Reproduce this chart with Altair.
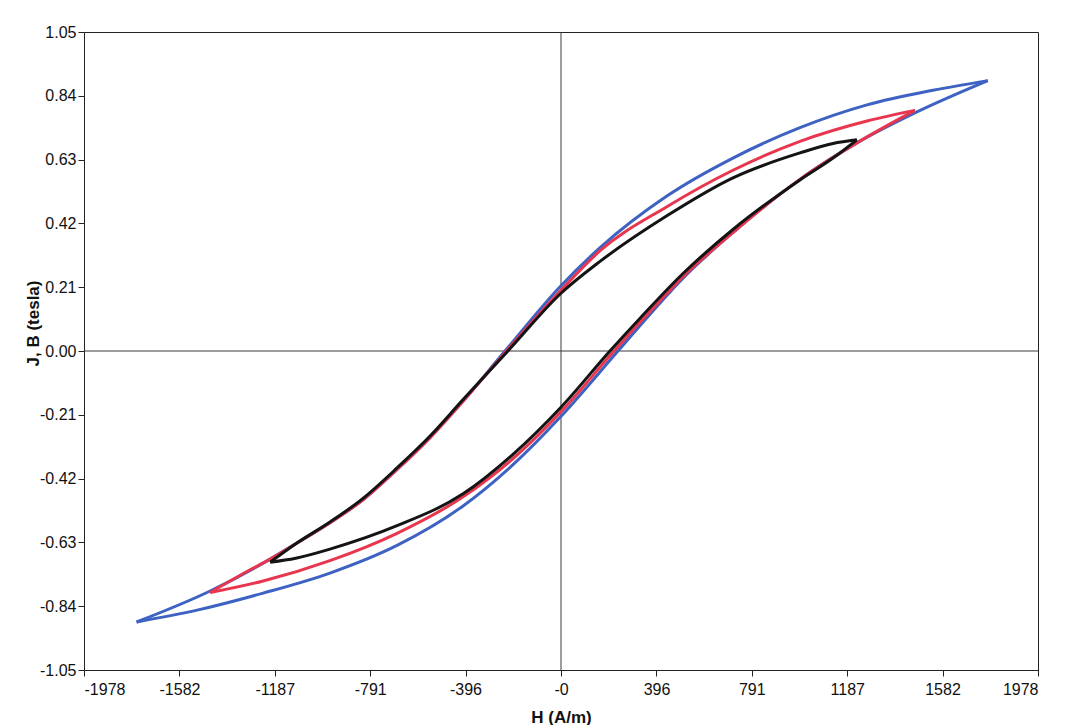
import altair as alt
import pandas as pd

# ---- data (H in A/m, B in tesla) ----
blue_upper_H = [1770, 1542, 1269, 991, 713, 439, 162, 0, -232, -406, -543, -680, -821, -958, -1095, -1206, -1455, -1760]
blue_upper_B = [0.890, 0.858, 0.810, 0.735, 0.635, 0.510, 0.340, 0.215, 0.0, -0.165, -0.285, -0.390, -0.490, -0.565, -0.632, -0.685, -0.790, -0.892]
blue_lower_H = [-1760, -1509, -1235, -958, -680, -406, -200, 0, 236, 340, 506, 713, 991, 1227, 1476, 1770]
blue_lower_B = [-0.892, -0.853, -0.797, -0.731, -0.640, -0.510, -0.375, -0.215, 0.0, 0.095, 0.240, 0.390, 0.565, 0.685, 0.787, 0.890]

red_upper_H = [1468, 1269, 991, 713, 439, 162, 0, -226, -406, -543, -680, -821, -958, -1095, -1206, -1300, -1455]
red_upper_B = [0.792, 0.757, 0.690, 0.595, 0.475, 0.330, 0.200, 0.0, -0.165, -0.285, -0.390, -0.490, -0.565, -0.632, -0.685, -0.725, -0.795]
red_lower_H = [-1455, -1235, -958, -680, -406, -200, 0, 220, 340, 506, 713, 991, 1227, 1468]
red_lower_B = [-0.795, -0.757, -0.690, -0.600, -0.480, -0.355, -0.200, 0.0, 0.105, 0.245, 0.390, 0.565, 0.685, 0.792]

black_upper_H = [1227, 1128, 991, 713, 439, 162, 0, -220, -406, -543, -680, -821, -958, -1095, -1206]
black_upper_B = [0.695, 0.683, 0.652, 0.570, 0.445, 0.295, 0.190, 0.0, -0.160, -0.280, -0.385, -0.485, -0.563, -0.632, -0.695]
black_lower_H = [-1206, -1100, -958, -680, -406, -199, 0, 203, 328, 506, 713, 991, 1128, 1227]
black_lower_B = [-0.695, -0.682, -0.652, -0.575, -0.470, -0.340, -0.185, 0.0, 0.108, 0.255, 0.400, 0.563, 0.635, 0.695]

x_ticks = [-1978, -1582, -1187, -791, -396, 0, 396, 791, 1187, 1582, 1978]
y_ticks = [-1.05, -0.84, -0.63, -0.42, -0.21, 0.0, 0.21, 0.42, 0.63, 0.84, 1.05]

colors = {"blue": "#3d62c2", "red": "#e8364f", "black": "#141414"}


def loop_frame(name, uh, ub, lh, lb):
    rows = []
    for h, b in zip(uh, ub):
        rows.append({"loop": name, "branch": name + "-upper", "H": h, "B": b})
    for h, b in zip(lh, lb):
        rows.append({"loop": name, "branch": name + "-lower", "H": h, "B": b})
    return pd.DataFrame(rows)


blue_df = loop_frame("blue", blue_upper_H, blue_upper_B, blue_lower_H, blue_lower_B)
red_df = loop_frame("red", red_upper_H, red_upper_B, red_lower_H, red_lower_B)
black_df = loop_frame("black", black_upper_H, black_upper_B, black_lower_H, black_lower_B)

label_font = "Liberation Sans"
title_font = "Liberation Sans"

xscale = alt.Scale(domain=[-1978, 1978], nice=False, zero=False)
yscale = alt.Scale(domain=[-1.05, 1.05], nice=False, zero=False)

x_axis = alt.Axis(
    values=x_ticks,
    labelExpr="datum.value == 0 ? '-0' : '' + datum.value",
    title="H (A/m)",
    grid=False,
    tickSize=6,
    labelPadding=5,
    titleY=52,
    titleBaseline="alphabetic",
)
y_axis = alt.Axis(
    values=y_ticks,
    labelExpr="replace(format(datum.value, '.2f'), '\u2212', '-')",
    title="J, B (tesla)",
    grid=False,
    tickSize=6,
    labelPadding=2,
    titleAngle=-90,
    titleX=-51,
    titleY=291,
    titleAlign="center",
    titleBaseline="middle",
)


def loop_layer(df, name):
    return alt.Chart(df).mark_line(
        strokeWidth=3, interpolate="monotone", color=colors[name]
    ).encode(
        x=alt.X("H:Q", scale=xscale, axis=x_axis),
        y=alt.Y("B:Q", scale=yscale, axis=y_axis),
        detail="branch:N",
    )


zero_x = alt.Chart(pd.DataFrame({"H": [0]})).mark_rule(color="#3a3a3a", strokeWidth=1).encode(
    x=alt.X("H:Q", scale=xscale, axis=x_axis)
)
zero_y = alt.Chart(pd.DataFrame({"B": [0.0]})).mark_rule(color="#3a3a3a", strokeWidth=1).encode(
    y=alt.Y("B:Q", scale=yscale, axis=y_axis)
)

chart = alt.layer(
    zero_x,
    zero_y,
    loop_layer(blue_df, "blue"),
    loop_layer(red_df, "red"),
    loop_layer(black_df, "black"),
).properties(
    width=954,
    height=638,
    background="white",
    autosize=alt.AutoSizeParams(type="none"),
    padding={"left": 76, "top": 24, "right": 20, "bottom": 55},
).configure_view(
    stroke="#222222", strokeWidth=1
).configure_axis(
    domainColor="#222222",
    tickColor="#222222",
    labelColor="#111111",
    titleColor="#111111",
    labelFont=label_font,
    labelFontSize=16,
    titleFont=title_font,
    titleFontSize=17,
    titleFontWeight="bold",
)

chart.save("out.html", embed_options={"renderer": "svg", "actions": False})
